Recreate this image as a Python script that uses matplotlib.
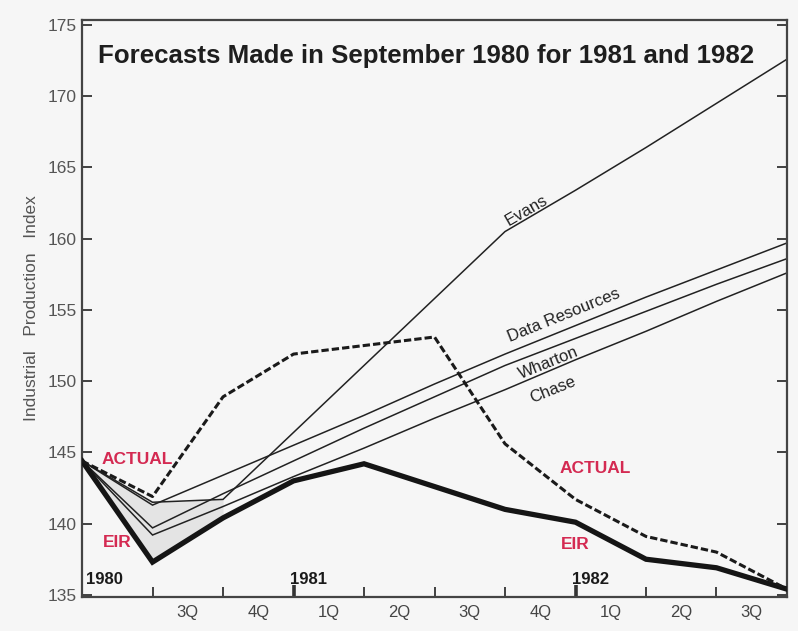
import matplotlib
matplotlib.use("Agg")
import matplotlib.pyplot as plt
import numpy as np

plt.rcParams['font.family'] = ['Liberation Sans', 'DejaVu Sans']

# Data (quarterly points, index 0 = start in 1980)
idx = list(range(11))
actual  = [144.4, 141.9, 148.9, 151.9, 152.5, 153.1, 145.6, 141.7, 139.1, 138.0, 135.4]
eir     = [144.4, 137.3, 140.4, 143.0, 144.2, 142.6, 141.0, 140.1, 137.5, 136.9, 135.4]
evans   = [144.4, 141.5, 141.7, 146.4, 151.1, 155.8, 160.5, 163.4, 166.4, 169.5, 172.6]
dri     = [144.4, 141.3, 143.4, 145.5, 147.6, 149.8, 151.9, 153.9, 155.9, 157.8, 159.7]
wharton = [144.4, 139.7, 142.1, 144.4, 146.7, 148.9, 151.1, 153.0, 154.9, 156.8, 158.6]
chase   = [144.4, 139.2, 141.2, 143.3, 145.3, 147.4, 149.4, 151.5, 153.5, 155.6, 157.6]

quarter_labels = ['3Q', '4Q', '1Q', '2Q', '3Q', '4Q', '1Q', '2Q', '3Q']
year_labels = ['1980', '1981', '1982']
year_pos = [0, 3, 7]
yticks = [135, 140, 145, 150, 155, 160, 165, 170, 175]

bg = '#f6f6f6'
red = '#d42a52'
fig = plt.figure(figsize=(7.98, 6.31), dpi=100, facecolor=bg)
ax = fig.add_axes([0.1028, 0.0539, 0.8834, 0.9144], facecolor=bg)

# shaded region between forecasts and EIR at the start
fx = np.array(idx[:3])
ax.fill_between(fx, np.array(evans[:3]), np.array(eir[:3]), color='#e4e4e4', lw=0, zorder=1)

lw_f = 1.1
for s in (evans, dri, wharton, chase):
    ax.plot(idx, s, color='#222222', lw=lw_f, zorder=2, solid_joinstyle='miter')
ax.plot(idx, eir, color='#151515', lw=3.8, zorder=3, solid_joinstyle='miter')
ax.plot(idx, actual, color='#1a1a1a', lw=2.2, ls=(0, (2.4, 1.0)), zorder=3)

ax.set_xlim(0, 10)
ax.set_ylim(134.85, 175.35)

ax.set_yticks(yticks)
ax.set_yticklabels([str(v) for v in yticks])
ax.set_xticks(range(1, 10))
ax.set_xticklabels([])
ax.set_xticks([i + 0.5 for i in range(1, 10)], minor=True)
ax.set_xticklabels(quarter_labels, minor=True)
ax.tick_params(axis='x', which='minor', length=0, pad=6, labelsize=12, labelcolor='#444444')
ax.tick_params(axis='x', which='major', direction='in', length=7, width=1.3, color='#333333')
ax.tick_params(axis='y', direction='in', length=7, width=1.3, color='#333333',
               right=True, labelsize=12.5, labelcolor='#555555', pad=4)
for t in ax.xaxis.get_major_ticks():
    if t.get_loc() in (3, 7):
        t.tick1line.set_markeredgewidth(2.6)
        t.tick1line.set_markersize(9)

for sp in ax.spines.values():
    sp.set_color('#444444')
    sp.set_linewidth(1.6)

ax.set_ylabel('Industrial   Production   Index', fontsize=12.5, color='#555555', labelpad=6)

ax.text(0.23, 172.85, 'Forecasts Made in September 1980 for 1981 and 1982',
        fontsize=18.6, fontweight='bold', color='#1e1e1e', va='center', ha='left')

for lab, p in zip(year_labels, year_pos):
    ax.text(max(p - 0.05, 0.06), 136.05, lab, fontsize=12, fontweight='bold', color='#1a1a1a',
            va='center', ha='left')

# line labels
ax.text(6.30, 162.0, 'Evans', rotation=30, fontsize=12, color='#222222', ha='center', va='center')
ax.text(6.84, 154.6, 'Data Resources', rotation=22, fontsize=12, color='#222222', ha='center', va='center')
ax.text(6.62, 151.3, 'Wharton', rotation=22, fontsize=12, color='#222222', ha='center', va='center')
ax.text(6.68, 149.4, 'Chase', rotation=22, fontsize=12, color='#222222', ha='center', va='center')

ax.text(0.78, 144.5, 'ACTUAL', fontsize=12.5, fontweight='bold', color=red, ha='center', va='center')
ax.text(0.50, 138.7, 'EIR', fontsize=12.5, fontweight='bold', color=red, ha='center', va='center')
ax.text(7.28, 143.9, 'ACTUAL', fontsize=12.5, fontweight='bold', color=red, ha='center', va='center')
ax.text(7.00, 138.5, 'EIR', fontsize=12.5, fontweight='bold', color=red, ha='center', va='center')

fig.savefig('out.png', dpi=100, facecolor=bg)
